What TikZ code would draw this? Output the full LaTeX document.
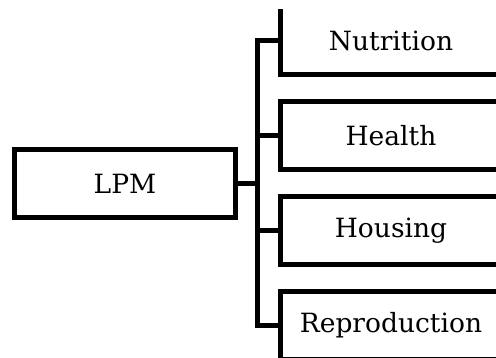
\documentclass[tikz,border=0pt]{standalone}
\usepackage{fontspec}
\setmainfont{DejaVu Serif}
\begin{document}
\begin{tikzpicture}[x=1pt,y=1pt,
  box/.style={draw=black,line width=5pt,rectangle,minimum width=221pt,minimum height=67.5pt,inner sep=0pt,font=\fontsize{26.5}{32}\selectfont},
  conn/.style={draw=black,line width=5pt}]
\useasboundingbox (0,0) rectangle (496,358);
\clip (-10,-10) rectangle (496,348);
\node[box] (lpm) at (125,174.25) {LPM};
\node[box] (nut) at (391,317.5) {Nutrition};
\node[box] (hea) at (391,222.5) {Health};
\node[box] (hou) at (391,127.5) {Housing};
\node[box] (rep) at (391,32.5) {Reproduction};
\coordinate (tx) at (257.5,0);
\draw[conn] (nut.west) -- (nut.west -| tx) -- (rep.west -| tx) -- (rep.west);
\draw[conn] (hea.west) -- (hea.west -| tx);
\draw[conn] (hou.west) -- (hou.west -| tx);
\draw[conn] (lpm.east) -- (lpm.east -| tx);
\end{tikzpicture}
\end{document}
